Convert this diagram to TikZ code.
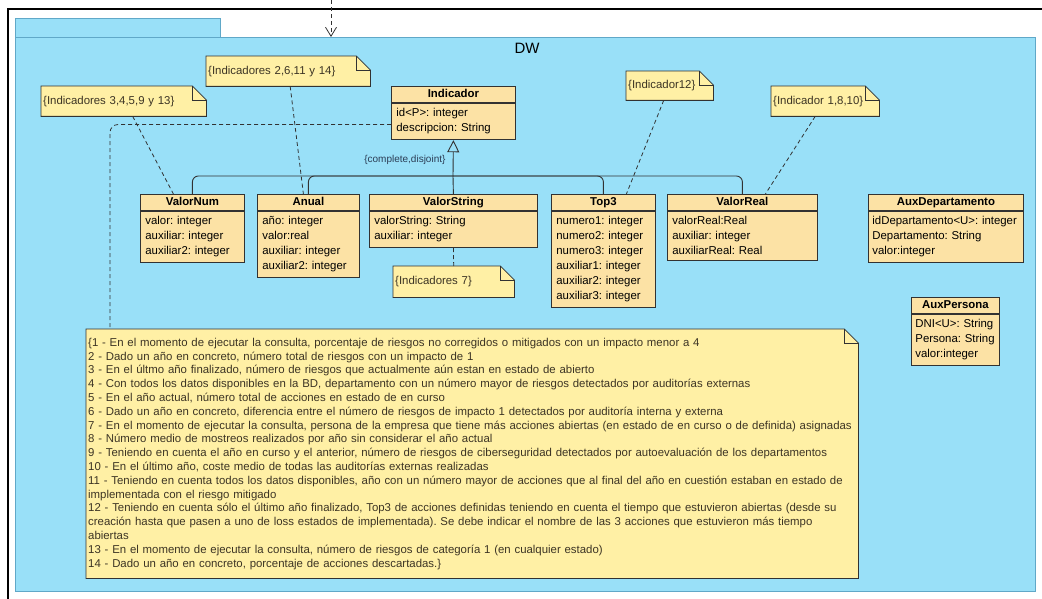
\documentclass[tikz,border=0pt]{standalone}
\usepackage{fontspec}
\setmainfont{Liberation Sans}
\frenchspacing
\usetikzlibrary{arrows.meta, positioning, calc}

\definecolor{pkgblue}{RGB}{153,224,248}
\definecolor{pkgline}{RGB}{96,168,200}
\definecolor{classfill}{RGB}{252,226,165}
\definecolor{notefill}{RGB}{255,240,165}
\definecolor{linegray}{RGB}{50,50,50}
\definecolor{notetext}{RGB}{60,52,36}
\definecolor{constraint}{RGB}{43,61,85}

\begin{document}
\begin{tikzpicture}[
    x=1pt, y=-1pt,
    every node/.style={font=\fontsize{11.4}{15}\selectfont\frenchspacing, text=black},
    classhead/.style={draw=linegray, fill=classfill, line width=0.8pt, font=\fontsize{11.4}{15}\selectfont\bfseries,
      minimum height=16pt, inner sep=0pt, text height=8.5pt, text depth=2pt, anchor=north west},
    classbody/.style={draw=linegray, fill=classfill, line width=0.8pt, text width=#1, align=left,
      inner xsep=5pt, inner ysep=5.5pt},
    notebox/.style={fill=notefill, text=notetext, anchor=north west, inner xsep=2pt, align=left},
    notelink/.style={linegray, line width=0.8pt, dash pattern=on 4pt off 3pt},
    genline/.style={linegray, line width=0.9pt, rounded corners=6pt}
  ]
  \useasboundingbox (0,0) rectangle (1042,599);

  % frame and package
  \draw[line width=1.2pt] (1042,9) -- (8,9) -- (8,599);
  \node[draw=pkgline, fill=pkgblue, minimum width=205pt, minimum height=19pt, inner sep=0pt, anchor=north west] (dwtab) at (15,18) {};
  \node[draw=pkgline, fill=pkgblue, minimum width=1020pt, minimum height=554pt, inner sep=0pt, anchor=north west] (dw) at (15,37) {};
  \node[font=\fontsize{15}{18}\selectfont] (dwname) at (527,48) {DW};
  \coordinate (src) at (331,0);
  \draw[linegray, line width=0.8pt, dash pattern=on 4pt off 3pt, -{Straight Barb[length=9pt, width=11pt]}] (src) -- (src |- dw.north);

  % classes
  \node[classhead, minimum width=124pt] (ind) at (391,86) {Indicador};
  \node[classbody=114pt, below=0pt of ind] (indb) {id<P>: integer\\descripcion: String};

  \node[classhead, minimum width=104pt] (vnum) at (140,194) {ValorNum};
  \node[classbody=94pt, below=0pt of vnum] (vnumb) {valor: integer\\auxiliar: integer\\auxiliar2: integer};

  \node[classhead, minimum width=102pt] (anual) at (257,194) {Anual};
  \node[classbody=92pt, below=0pt of anual] (anualb) {año: integer\\valor:real\\auxiliar: integer\\auxiliar2: integer};

  \node[classhead, minimum width=168pt] (vstr) at (369,194) {ValorString};
  \node[classbody=158pt, below=0pt of vstr] (vstrb) {valorString: String\\auxiliar: integer};

  \node[classhead, minimum width=104pt] (top3) at (551,194) {Top3};
  \node[classbody=94pt, below=0pt of top3] (top3b) {numero1: integer\\numero2: integer\\numero3: integer\\auxiliar1: integer\\auxiliar2: integer\\auxiliar3: integer};

  \node[classhead, minimum width=150pt] (vreal) at (667,194) {ValorReal};
  \node[classbody=140pt, below=0pt of vreal] (vrealb) {valorReal:Real\\auxiliar: integer\\auxiliarReal: Real};

  \node[classhead, minimum width=155pt] (auxdep) at (868,194) {AuxDepartamento};
  \node[classbody=147pt, inner xsep=4pt, below=0pt of auxdep] (auxdepb) {idDepartamento<U>: integer\\Departamento: String\\valor:integer};

  \node[classhead, minimum width=88pt] (auxper) at (911,297) {AuxPersona};
  \node[classbody=80pt, inner xsep=4pt, below=0pt of auxper] (auxperb) {DNI<U>: String\\Persona: String\\valor:integer};

  % notes
  \node[notebox, text width=161pt, minimum height=30pt] (n3) at (41,86) {\{Indicadores 3,4,5,9 y 13\}};
  \node[notebox, text width=160pt, minimum height=30pt] (n2) at (206,56) {\{Indicadores 2,6,11 y 14\}};
  \node[notebox, text width=83pt, minimum height=29pt] (n12) at (626,71) {\{Indicador12\}};
  \node[notebox, text width=104pt, minimum height=30pt] (n18) at (771,86) {\{Indicador 1,8,10\}};
  \node[notebox, text width=117pt, minimum height=31pt] (n7) at (393,266) {\{Indicadores 7\}};
  \node[notebox, text width=768pt, minimum height=249pt, font=\fontsize{11.4}{13.8}\selectfont\frenchspacing] (big) at (86,329) {%
    \{1 - En el momento de ejecutar la consulta, porcentaje de riesgos no corregidos o mitigados con un impacto menor a 4\\
    2 - Dado un año en concreto, número total de riesgos con un impacto de 1\\
    3 - En el últmo año finalizado, número de riesgos que actualmente aún estan en estado de abierto\\
    4 - Con todos los datos disponibles en la BD, departamento con un número mayor de riesgos detectados por auditorías externas\\
    5 - En el año actual, número total de acciones en estado de en curso\\
    6 - Dado un año en concreto, diferencia entre el número de riesgos de impacto 1 detectados por auditoría interna y externa\\
    7 - En el momento de ejecutar la consulta, persona de la empresa que tiene más acciones abiertas (en estado de en curso o de definida) asignadas\\
    8 - Número medio de mostreos realizados por año sin considerar el año actual\\
    9 - Teniendo en cuenta el año en curso y el anterior, número de riesgos de ciberseguridad detectados por autoevaluación de los departamentos\\
    10 - En el último año, coste medio de todas las auditorías externas realizadas\\
    11 - Teniendo en cuenta todos los datos disponibles, año con un número mayor de acciones que al final del año en cuestión estaban en estado de\\
    implementada con el riesgo mitigado\\
    12 - Teniendo en cuenta sólo el último año finalizado, Top3 de acciones definidas teniendo en cuenta el tiempo que estuvieron abiertas (desde su\\
    creación hasta que pasen a uno de loss estados de implementada). Se debe indicar el nombre de las 3 acciones que estuvieron más tiempo\\
    abiertas\\
    13 - En el momento de ejecutar la consulta, número de riesgos de categoría 1 (en cualquier estado)\\
    14 - Dado un año en concreto, porcentaje de acciones descartadas.\}};

  % folded corners
  \foreach \n in {n3,n2,n12,n18,n7,big} {
    \fill[pkgblue] ($(\n.north east)+(-14,0)$) -- (\n.north east) -- ($(\n.north east)+(0,14)$) -- cycle;
    \draw[linegray, line width=0.8pt] (\n.north west) -- ($(\n.north east)+(-14,0)$) -- ($(\n.north east)+(0,14)$)
      -- (\n.south east) -- (\n.south west) -- cycle;
    \draw[linegray, line width=0.8pt] ($(\n.north east)+(-14,0)$) |- ($(\n.north east)+(0,14)$);
  }

  % generalization
  \coordinate (genj) at (453,176);
  \draw[genline] (vnum.north) |- (genj);
  \draw[genline] (anual.north) |- (genj);
  \draw[genline] (top3.north) |- (genj);
  \draw[genline] (vreal.north) |- (genj);
  \draw[genline] (vstr.north) -- (genj);
  \draw[genline, -{Triangle[open, length=12pt, width=12pt]}] (genj) -- (indb.south);
  \node[font=\fontsize{10}{12}\selectfont, text=constraint, anchor=east] (cons) at (449,160) {\{complete,disjoint\}};

  % note links
  \draw[notelink] ([xshift=9pt]n3.south) -- ([xshift=-19pt]vnum.north);
  \draw[notelink] ([xshift=2pt]n2.south) -- ([xshift=-5pt]anual.north);
  \draw[notelink, rounded corners=8pt] ([yshift=-3pt]indb.west) -| ([xshift=24pt]big.north west);
  \draw[notelink] ([xshift=-6pt]n12.south) -- ([xshift=23pt]top3.north);
  \draw[notelink] ([xshift=-10pt]n18.south) -- ([xshift=23pt]vreal.north);
  \draw[notelink] (vstrb.south) -- (n7.north);
\end{tikzpicture}
\end{document}
